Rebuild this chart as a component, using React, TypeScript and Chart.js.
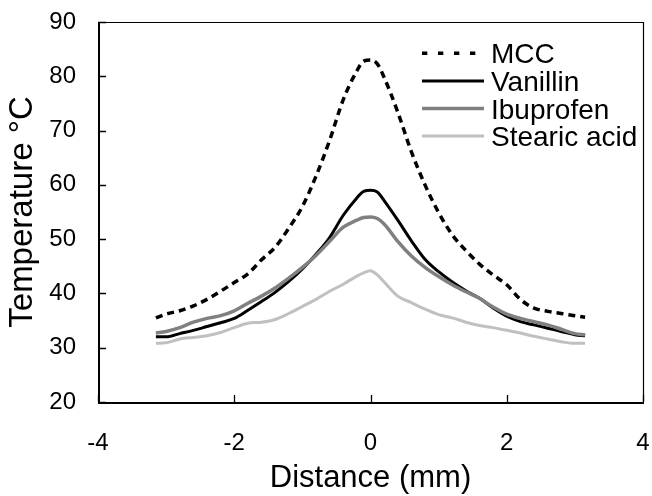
import { useEffect, useRef } from 'react';
import { Chart, registerables } from 'chart.js';

Chart.register(...registerables);

// ---- data ----
const distance = [-3.15, -3.0, -2.8, -2.6, -2.4, -2.2, -2.0, -1.8, -1.6, -1.4, -1.2, -1.0, -0.8, -0.6, -0.4, -0.2, -0.1, 0, 0.1, 0.2, 0.4, 0.6, 0.8, 1.0, 1.2, 1.4, 1.6, 1.8, 2.0, 2.2, 2.4, 2.6, 2.8, 3.0, 3.15];
const mcc = [35.5, 36.2, 36.8, 37.7, 38.9, 40.4, 42.0, 43.6, 46.2, 48.5, 52.0, 56.0, 61.6, 68.2, 75.7, 81.0, 82.8, 83.0, 82.3, 79.8, 73.4, 66.1, 60.0, 54.9, 50.8, 47.9, 45.4, 43.4, 41.6, 38.9, 37.3, 36.7, 36.3, 35.9, 35.6];
const vanillin = [32.0, 32.0, 32.6, 33.2, 33.9, 34.6, 35.4, 36.9, 38.5, 40.2, 42.2, 44.5, 47.2, 50.3, 54.4, 57.6, 58.8, 59.0, 58.7, 57.1, 53.5, 49.7, 46.3, 44.0, 42.1, 40.5, 39.1, 37.3, 35.8, 34.8, 34.2, 33.6, 33.0, 32.4, 32.2];
const ibuprofen = [32.7, 33.0, 33.7, 34.7, 35.4, 35.9, 36.8, 38.2, 39.5, 41.0, 42.8, 44.8, 47.0, 49.6, 52.2, 53.5, 54.0, 54.1, 53.8, 52.8, 49.6, 46.9, 44.8, 43.1, 41.6, 40.3, 39.1, 37.5, 36.2, 35.4, 34.8, 34.2, 33.4, 32.6, 32.4];
const stearicAcid = [30.8, 30.9, 31.6, 31.9, 32.2, 32.8, 33.7, 34.5, 34.7, 35.2, 36.3, 37.6, 38.9, 40.4, 41.7, 43.2, 43.8, 44.2, 43.4, 42.1, 39.5, 38.3, 37.1, 36.1, 35.5, 34.7, 34.1, 33.7, 33.2, 32.7, 32.1, 31.6, 31.1, 30.8, 30.8];
const seriesLabels = ['MCC', 'Vanillin', 'Ibuprofen', 'Stearic acid'];
const xAxis = { min: -4, max: 4, step: 2, title: 'Distance (mm)' };
const yAxis = { min: 20, max: 90, step: 10, title: 'Temperature °C' };

const FONT = '"Liberation Sans", Arial, Helvetica, sans-serif';

const framePlugin = {
  id: 'frame',
  beforeDatasetsDraw(chart: any) {
    const { ctx, chartArea, scales } = chart;
    const { left, right, top, bottom } = chartArea;
    ctx.save();
    ctx.strokeStyle = '#000';
    ctx.lineWidth = 1.2;
    ctx.beginPath();
    ctx.moveTo(left, top + 0.5);
    ctx.lineTo(right, top + 0.5);
    ctx.moveTo(right + 0.5, top);
    ctx.lineTo(right + 0.5, bottom);
    ctx.stroke();
    ctx.lineWidth = 2;
    ctx.beginPath();
    ctx.moveTo(left + 1, top);
    ctx.lineTo(left + 1, bottom + 1);
    ctx.lineTo(right + 1, bottom + 1);
    ctx.stroke();
    ctx.lineWidth = 1.3;
    ctx.beginPath();
    scales.y.ticks.forEach((t: any) => {
      const py = Math.round(scales.y.getPixelForValue(t.value)) + 0.5;
      ctx.moveTo(left, py);
      ctx.lineTo(left + 8, py);
    });
    scales.x.ticks.forEach((t: any) => {
      const px = Math.round(scales.x.getPixelForValue(t.value)) + 0.5;
      ctx.moveTo(px, bottom);
      ctx.lineTo(px, bottom - 7);
    });
    ctx.stroke();
    ctx.restore();
  },
};

const legendPlugin = {
  id: 'insideLegend',
  afterDatasetsDraw(chart: any) {
    const { ctx } = chart;
    ctx.save();
    chart.data.datasets.forEach((ds: any, i: number) => {
      const yy = 53.3 + i * 27.6;
      const dashed = ds.borderDash && ds.borderDash.length;
      ctx.strokeStyle = ds.borderColor;
      ctx.lineWidth = ds.borderWidth;
      ctx.setLineDash(dashed ? [5.3, 10.7] : []);
      ctx.beginPath();
      ctx.moveTo(422, yy);
      ctx.lineTo(dashed ? 486 : 484, yy);
      ctx.stroke();
      ctx.setLineDash([]);
      ctx.fillStyle = '#000';
      ctx.font = `28px ${FONT}`;
      ctx.textAlign = 'left';
      ctx.textBaseline = 'alphabetic';
      ctx.fillText(ds.label, 491, yy + 10);
    });
    ctx.restore();
  },
};

const zeroPad = (s: any) => {
  s.paddingTop = 0;
  s.paddingBottom = 0;
  s.paddingLeft = 0;
  s.paddingRight = 0;
};

export default function App() {
  const ref = useRef<HTMLCanvasElement>(null);
  useEffect(() => {
    const canvas = ref.current!;
    const pts = (ys: number[]) => distance.map((x, i) => ({ x, y: ys[i] }));
    const common = { showLine: true, pointRadius: 0, pointHoverRadius: 0, fill: false };
    const chart = new Chart(canvas, {
      type: 'scatter',
      data: {
        datasets: [
          { ...common, label: seriesLabels[0], data: pts(mcc), borderColor: '#000000', borderWidth: 3.5, borderDash: [7, 5], order: 4 },
          { ...common, label: seriesLabels[1], data: pts(vanillin), borderColor: '#000000', borderWidth: 3, order: 3 },
          { ...common, label: seriesLabels[2], data: pts(ibuprofen), borderColor: '#808080', borderWidth: 3.5, order: 2 },
          { ...common, label: seriesLabels[3], data: pts(stearicAcid), borderColor: '#c0c0c0', borderWidth: 3, order: 1 },
        ],
      },
      options: {
        responsive: false,
        animation: false,
        devicePixelRatio: 1,
        layout: { padding: { top: 22, right: 9, left: 0, bottom: 0 } },
        elements: { line: { cubicInterpolationMode: 'monotone' } },
        plugins: { legend: { display: false }, tooltip: { enabled: false } },
        scales: {
          x: {
            type: 'linear',
            min: xAxis.min,
            max: xAxis.max,
            ticks: { stepSize: xAxis.step, padding: 27, color: '#000', font: { family: FONT, size: 24 } },
            grid: { display: false, drawTicks: false, tickLength: 0 },
            border: { display: false },
            title: { display: true, text: xAxis.title, color: '#000', font: { family: FONT, size: 31 }, padding: { top: 0, bottom: -1 } },
            afterFit: (s: any) => { s.height = 94; zeroPad(s); },
          },
          y: {
            type: 'linear',
            min: yAxis.min,
            max: yAxis.max,
            ticks: { stepSize: yAxis.step, padding: 22, color: '#000', font: { family: FONT, size: 24 } },
            grid: { display: false, drawTicks: false, tickLength: 0 },
            border: { display: false },
            title: { display: true, text: yAxis.title, color: '#000', font: { family: FONT, size: 33 }, padding: { top: 3, bottom: 0 } },
            afterFit: (s: any) => { s.width = 98; zeroPad(s); },
          },
        },
      } as any,
      plugins: [framePlugin, legendPlugin],
    });
    return () => chart.destroy();
  }, []);
  return (
    <div style={{ position: 'fixed', left: 0, top: 0, width: 652, height: 496, background: '#fff' }}>
      <canvas ref={ref} width={652} height={496} style={{ width: 652, height: 496, display: 'block' }} />
    </div>
  );
}
